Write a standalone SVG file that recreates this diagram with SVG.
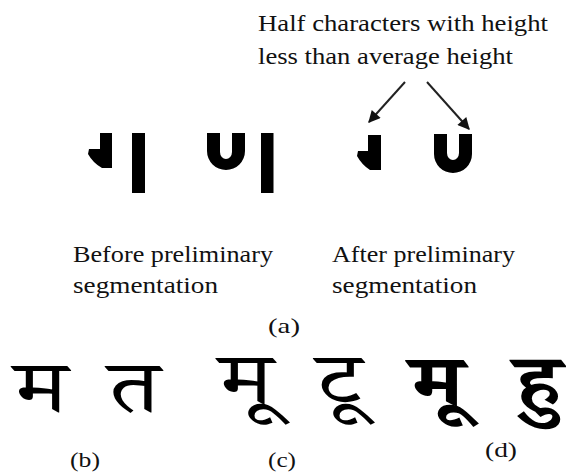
<svg xmlns="http://www.w3.org/2000/svg" width="566" height="474" viewBox="0 0 566 474">
<style>
  .t { font-family: "Liberation Serif", "Times New Roman", serif; font-size: 24px; fill: #111; }
  .lbl { font-family: "Liberation Serif", "Times New Roman", serif; font-size: 22px; fill: #111; }
  .dev { font-family: "Noto Serif Devanagari", "Noto Sans Devanagari", serif; fill: #000; }
  .ink { fill: #000; }
  .arrow { stroke: #222; stroke-width: 2; fill: none; marker-end: url(#head); }
</style>
<defs>
  <marker id="head" viewBox="0 0 10 10" refX="9" refY="5" markerWidth="7" markerHeight="6" orient="auto" markerUnits="strokeWidth">
    <path d="M0,0 L10,5 L0,10 Z" fill="#111"/>
  </marker>
</defs>
<rect width="566" height="474" fill="#fff"/>

<!-- callout text -->
<g id="note">
  <text class="t" x="258" y="31" textLength="290" lengthAdjust="spacingAndGlyphs">Half characters with height</text>
  <text class="t" x="258" y="64" textLength="255" lengthAdjust="spacingAndGlyphs">less than average height</text>
</g>

<!-- (a) before preliminary segmentation -->
<g id="before-half-ma">
  <path class="ink" d="M100,133 H112 V168 H102 Q93,163 88,154 L89,149 H100 Z"/>
</g>
<g id="before-bar-1">
  <rect class="ink" x="132" y="133" width="13" height="60"/>
</g>
<g id="before-u">
  <path class="ink" d="M207,133 H220 V152 A6,7 0 0 0 232,152 V133 H245 V151 A19,19 0 0 1 207,151 Z"/>
</g>
<g id="before-bar-2">
  <rect class="ink" x="261" y="133" width="12.5" height="60"/>
</g>

<!-- (a) after preliminary segmentation -->
<g id="after-half-ma">
  <path class="ink" d="M368,135 H381 V170 H370 Q362,165 357,156 L358,151 H368 Z"/>
</g>
<g id="after-u">
  <path class="ink" d="M434,134 H447 V153 A6,7 0 0 0 459,153 V134 H472 V154 A19,19 0 0 1 434,154 Z"/>
</g>

<g id="connectors">
  <line class="arrow" x1="405" y1="82" x2="369" y2="122"/>
  <line class="arrow" x1="427" y1="82" x2="469" y2="129"/>
</g>

<g id="captions">
  <text class="t" x="73" y="262" textLength="200" lengthAdjust="spacingAndGlyphs">Before preliminary</text>
  <text class="t" x="73" y="293" textLength="145" lengthAdjust="spacingAndGlyphs">segmentation</text>
  <text class="t" x="332" y="262" textLength="183" lengthAdjust="spacingAndGlyphs">After preliminary</text>
  <text class="t" x="332" y="293" textLength="145" lengthAdjust="spacingAndGlyphs">segmentation</text>
  <text class="lbl" x="268" y="333" textLength="32" lengthAdjust="spacingAndGlyphs">(a)</text>
</g>

<!-- (b) -->
<g id="glyph-ma">
  <text class="dev" transform="translate(41,412) scale(1.3,1)" font-size="73" text-anchor="middle">म</text>
</g>
<g id="glyph-ta">
  <text class="dev" transform="translate(134,412) scale(1.3,1)" font-size="73" text-anchor="middle">त</text>
</g>
<!-- (c) -->
<g id="glyph-mu">
  <text class="dev" transform="translate(246,404) scale(1.3,1)" font-size="74" text-anchor="middle">मू</text>
</g>
<g id="glyph-tu">
  <text class="dev" transform="translate(339,404) scale(1.3,1)" font-size="74" text-anchor="middle">टू</text>
</g>
<!-- (d) -->
<g id="glyph-mu-bold">
  <text class="dev" transform="translate(437,406) scale(1.2,1)" font-size="74" font-weight="bold" text-anchor="middle">मू</text>
</g>
<g id="glyph-hu">
  <text class="dev" transform="translate(538,406) scale(1.25,1)" font-size="74" font-weight="bold" text-anchor="middle">हु</text>
</g>

<g id="labels">
  <text class="lbl" x="70" y="467" textLength="30" lengthAdjust="spacingAndGlyphs">(b)</text>
  <text class="lbl" x="268" y="467" textLength="28" lengthAdjust="spacingAndGlyphs">(c)</text>
  <text class="lbl" x="485" y="457" textLength="32" lengthAdjust="spacingAndGlyphs">(d)</text>
</g>
</svg>
